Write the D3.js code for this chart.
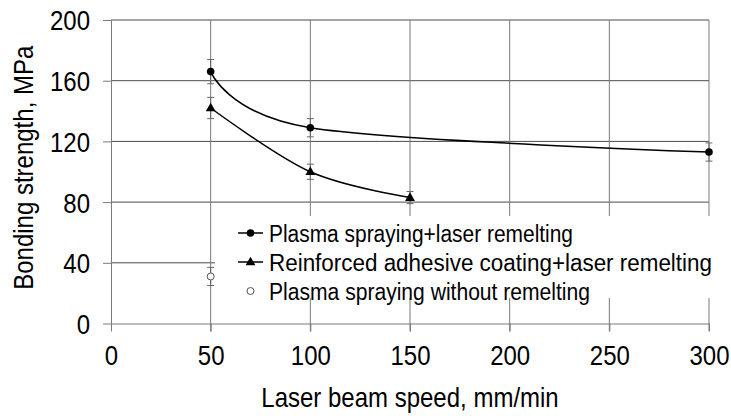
<!DOCTYPE html>
<html>
<head>
<meta charset="utf-8">
<script src="https://cdn.jsdelivr.net/npm/d3@7"></script>
<style>
  body { margin: 0; background: #fff; }
  svg { display: block; font-family: "Liberation Sans", Arial, sans-serif; }
</style>
</head>
<body>
<div id="chart"></div>
<script>
// data
const xTicks = [0, 50, 100, 150, 200, 250, 300];
const yTicks = [0, 40, 80, 120, 160, 200];

const remeltSpeed = [50, 100, 300];
const remeltValue = [166, 129, 113];
const remeltErr = [8, 6, 6];

const adhesiveSpeed = [50, 100, 150];
const adhesiveValue = [142, 100, 83];
const adhesiveErr = [7, 5, 4];

const plainSpeed = [50];
const plainValue = [31];
const plainErr = [6];

const legendLabels = [
    'Plasma spraying+laser remelting',
    'Reinforced adhesive coating+laser remelting',
    'Plasma spraying without remelting'
];

const width = 731, height = 416;
const margin = { top: 20, right: 22, bottom: 92.5, left: 111 };
const stretch = 1.15; // text in the picture is a bit taller than plain Arial

const svg = d3.select('#chart').append('svg')
    .attr('width', width)
    .attr('height', height);

const x = d3.scaleLinear().domain([0, 300]).range([margin.left, width - margin.right]);
const y = d3.scaleLinear().domain([0, 200]).range([height - margin.bottom, margin.top]);

// grid
svg.append('g').selectAll('line')
    .data(yTicks.filter(d => d > 0))
    .join('line')
    .attr('x1', x(0)).attr('x2', x(300))
    .attr('y1', d => y(d)).attr('y2', d => y(d))
    .attr('stroke', '#4a4a4a').attr('stroke-width', 1);

svg.append('g').selectAll('line')
    .data(xTicks.filter(d => d > 0))
    .join('line')
    .attr('x1', d => x(d)).attr('x2', d => x(d))
    .attr('y1', y(200)).attr('y2', y(0) + 8)
    .attr('stroke', '#7a7a7a').attr('stroke-width', 1);

// axes
const xAxis = svg.append('g')
    .attr('transform', `translate(0,${y(0)})`)
    .call(d3.axisBottom(x).tickValues(xTicks).tickSize(8).tickSizeOuter(0).tickPadding(14));
const yAxis = svg.append('g')
    .attr('transform', `translate(${x(0)},0)`)
    .call(d3.axisLeft(y).tickValues(yTicks).tickSize(8).tickSizeOuter(0).tickPadding(13));

[xAxis, yAxis].forEach(g => {
    g.select('.domain').attr('stroke', '#7a7a7a');
    g.selectAll('.tick line').attr('stroke', '#7a7a7a');
    g.selectAll('.tick text')
        .attr('font-family', '"Liberation Sans", Arial, sans-serif')
        .attr('font-size', 24)
        .attr('fill', '#000');
});

// stretch tick labels vertically around their own centre
xAxis.selectAll('.tick text').each(function () {
    const t = d3.select(this);
    const ty = +t.attr('y');
    t.attr('y', 0).attr('dy', '0.71em')
        .attr('transform', `translate(0,${ty}) scale(1,${stretch})`);
});
yAxis.selectAll('.tick text').each(function () {
    const t = d3.select(this);
    const tx = +t.attr('x');
    t.attr('x', 0).attr('dy', '0.36em')
        .attr('transform', `translate(${tx},0) scale(1,${stretch})`);
});

// axis titles
svg.append('text')
    .attr('transform', `translate(${(x(0) + x(300)) / 2},407) scale(1,${stretch})`)
    .attr('text-anchor', 'middle')
    .attr('font-size', 24)
    .text('Laser beam speed, mm/min');

svg.append('text')
    .attr('transform', `translate(33,${(y(0) + y(200)) / 2 - 4}) rotate(-90) scale(1,${stretch})`)
    .attr('text-anchor', 'middle')
    .attr('font-size', 24)
    .text('Bonding strength, MPa');

// legend box covers grid
const legend = svg.append('g');
legend.append('rect')
    .attr('x', 215).attr('y', 216)
    .attr('width', 502).attr('height', 82)
    .attr('fill', '#fff');

// series
const series = [
    { xs: remeltSpeed, ys: remeltValue, err: remeltErr, marker: 'circle' },
    { xs: adhesiveSpeed, ys: adhesiveValue, err: adhesiveErr, marker: 'triangle' },
    { xs: plainSpeed, ys: plainValue, err: plainErr, marker: 'open' }
];

const line = d3.line()
    .x(d => x(d[0]))
    .y(d => y(d[1]))
    .curve(d3.curveCardinal.tension(0));

function drawMarker(g, type, cx, cy) {
    if (type === 'circle') {
        g.append('circle').attr('cx', cx).attr('cy', cy).attr('r', 3.8).attr('fill', '#000');
    } else if (type === 'triangle') {
        g.append('path')
            .attr('d', d3.symbol().type(d3.symbolTriangle).size(42)())
            .attr('transform', `translate(${cx},${cy + 0.5})`)
            .attr('fill', '#000');
    } else {
        g.append('circle').attr('cx', cx).attr('cy', cy).attr('r', 3.5)
            .attr('fill', '#fff').attr('stroke', '#555').attr('stroke-width', 1);
    }
}

series.forEach(s => {
    const pts = s.xs.map((v, i) => [v, s.ys[i], s.err[i]]);
    const g = svg.append('g');
    // error bars
    pts.forEach(p => {
        const cx = x(p[0]);
        g.append('line').attr('x1', cx).attr('x2', cx)
            .attr('y1', y(p[1] + p[2])).attr('y2', y(p[1] - p[2]))
            .attr('stroke', '#666').attr('stroke-width', 1);
        [p[1] + p[2], p[1] - p[2]].forEach(v => {
            g.append('line').attr('x1', cx - 3.5).attr('x2', cx + 3.5)
                .attr('y1', y(v)).attr('y2', y(v))
                .attr('stroke', '#666').attr('stroke-width', 1);
        });
    });
    if (pts.length > 1) {
        g.append('path').datum(pts).attr('d', line)
            .attr('fill', 'none').attr('stroke', '#000').attr('stroke-width', 1.5);
    }
    pts.forEach(p => drawMarker(g, s.marker, x(p[0]), y(p[1])));
});

// legend entries
const legendWidths = [304, 443, 321];
legendLabels.forEach((label, i) => {
    const ly = 233 + i * 29;
    const g = legend.append('g');
    if (series[i].marker !== 'open') {
        g.append('line').attr('x1', 238).attr('x2', 263).attr('y1', ly).attr('y2', ly)
            .attr('stroke', '#000').attr('stroke-width', 1.5);
    }
    drawMarker(g, series[i].marker, 250.5, ly);
    g.append('text')
        .attr('transform', `translate(269,${ly}) scale(1,${stretch})`)
        .attr('dy', '0.36em')
        .attr('font-size', 21)
        .attr('textLength', legendWidths[i])
        .attr('lengthAdjust', 'spacingAndGlyphs')
        .text(label);
});
</script>
</body>
</html>
